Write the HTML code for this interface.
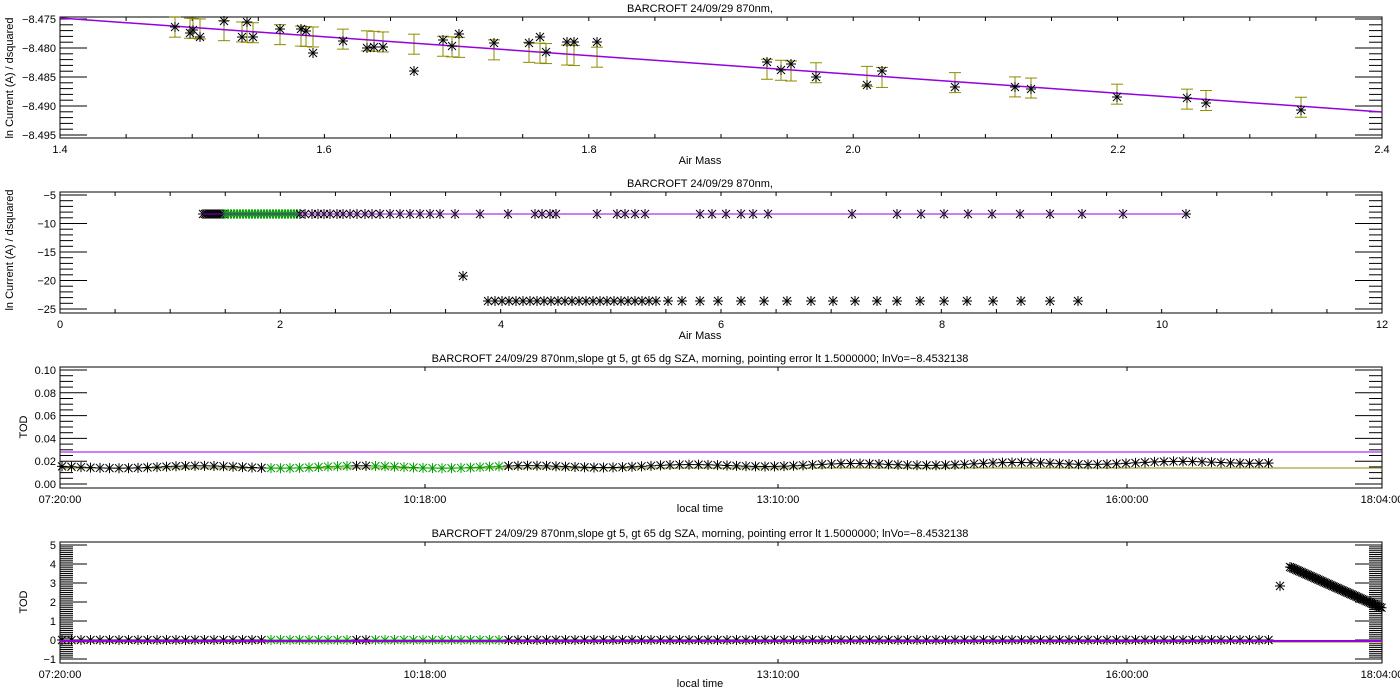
<!DOCTYPE html>
<html><head><meta charset="utf-8"><style>
html,body{margin:0;padding:0;background:#fff;width:1400px;height:700px;overflow:hidden}
svg{display:block;font-family:"Liberation Sans",sans-serif}
</style></head><body>
<svg id="s" width="1400" height="700" xmlns="http://www.w3.org/2000/svg"></svg>
<script>
const S=document.getElementById('s');let h='';
const L=60,R=1382;
function ln(x1,y1,x2,y2,c,w){h+=`<line x1="${x1}" y1="${y1}" x2="${x2}" y2="${y2}" stroke="${c||'#000'}" stroke-width="${w||1}"/>`;}
function tx(x,y,t,a,extra){h+=`<text x="${x}" y="${y}" font-size="11" text-anchor="${a||'middle'}" ${extra||''}>${t}</text>`;}
function star(x,y,c){c=c||'#000';const r=5;ln(x-r,y,x+r,y,c);ln(x,y-r,x,y+r,c);ln(x-r*.8,y-r*.8,x+r*.8,y+r*.8,c);ln(x-r*.8,y+r*.8,x+r*.8,y-r*.8,c);}
function box(T,B,title){h+=`<rect x="${L}" y="${T}" width="${R-L}" height="${B-T}" fill="none" stroke="#000"/>`;tx(700,T-5,title,'middle','font-size="12"');}
function xticks(T,B,n,labs,minor){
 if(minor>0){for(let i=0;i<=minor;i++){const x=L+i*(R-L)/minor;ln(x,B,x,B-4);ln(x,T,x,T+4);}}
 labs.forEach(([x,t])=>tx(x,B+15,t));
}
// Panel 1
let T=17,B=138;box(T,B,'BARCROFT 24/09/29 870nm,');
const f1=v=>19+(-8.475-v)/0.02*116;
for(let i=0;i<21;i++){const v=-8.495+i*0.001;const y=f1(v);const m=(i%5==0);ln(L,y,L+(m?27:13),y);ln(R,y,R-(m?27:13),y);if(m)tx(L-4,y+4,'\u2212'+(-v).toFixed(3),'end');}
xticks(T,B,0,[[60,'1.4'],[324,'1.6'],[589,'1.8'],[853,'2.0'],[1118,'2.2'],[1382,'2.4']],20);
tx(700,164,'Air Mass','middle','font-size="10"');
tx(13,78,'ln Current (A) / dsquared','middle','font-size="10" transform="rotate(-90 13 78)"');
tx(13,250,'ln Current (A) / dsquared','middle','font-size="10" transform="rotate(-90 13 250)"');
const lineY=x=>18+(x-60)/1322*94;
const P1=[[175,27],[190,33],[193,30],[200,37],[224,21],[242,37],[247,22],[253,37],[280,29],[301,29],[306,31],[313,53],[343,41],[367,48],[374,47],[383,47],[414,71],[443,40],[452,46],[459,34],[494,43],[529,43],[540,37],[546,52],[567,42],[574,42],[597,42],[767,62],[781,70],[791,64],[816,77],[867,85],[882,71],[955,87],[1015,87],[1031,89],[1117,97],[1187,98],[1206,103],[1301,110]];
P1.forEach(([x,y])=>{const c=lineY(x)+1;ln(x,c-10,x,c+10,'#8c8c00');ln(x-6,c-10,x+6,c-10,'#8c8c00');ln(x-6,c+10,x+6,c+10,'#8c8c00');});
ln(60,18,1382,112,'#9400e0',1.5);
P1.forEach(([x,y])=>star(x,y));
// Panel 2
T=192;B=313;box(T,B,'BARCROFT 24/09/29 870nm,');
const f2=v=>195+(-5-v)/20*114;
for(let v=-25;v<=-5;v++){const y=f2(v);const m=(v%5==0);ln(L,y,L+(m?27:13),y);ln(R,y,R-(m?27:13),y);if(m)tx(L-4,y+4,'\u2212'+(-v),'end');}
xticks(T,B,0,[[60,'0'],[280,'2'],[501,'4'],[721,'6'],[942,'8'],[1162,'10'],[1382,'12']],24);
tx(700,339,'Air Mass','middle','font-size="10"');
for(let x=203;x<225;x+=2)star(x,214);
for(let x=225;x<300;x+=3)star(x,214,'#00a000');
let xs=[300,305,312,318,324,330,337,343,350,357,365,372,380,390,400,410,420,430,440,455,480,508,535,542,550,556,597,617,625,635,645,700,712,726,741,753,768,852,897,921,944,968,992,1020,1050,1082,1123,1186];
xs.forEach(x=>star(x,214));
ln(203,214,1186,214,'#9400e0');
for(let x=488;x<660;x+=7)star(x,301);
[668,682,700,718,741,764,787,811,833,855,877,897,920,944,967,993,1021,1050,1078].forEach(x=>star(x,301));
star(463,276);
// Panel 3
const ttl='BARCROFT 24/09/29 870nm,slope gt 5, gt 65 dg SZA, morning, pointing error lt 1.5000000; lnVo=\u22128.4532138';
T=367;B=488;box(T,B,ttl);
const f3=v=>370+(0.10-v)/0.10*114;
for(let i=0;i<=20;i++){const v=i*0.005;const y=f3(v);const m=(i%4==0);ln(L,y,L+(m?27:13),y);ln(R,y,R-(m?27:13),y);if(m)tx(L-4,y+4,v.toFixed(2),'end');}
const tl=[[60,'07:20:00'],[425,'10:18:00'],[778,'13:10:00'],[1127,'16:00:00'],[1382,'18:04:00']];
xticks(T,B,0,tl,0);tl.forEach(([x])=>{ln(x,B,x,B-4);ln(x,T,x,T+4);});
tx(27,427,'TOD','middle','font-size="10" transform="rotate(-90 27 427)"');
ln(L,452,R,452,'#9400e0');ln(L,468,R,468,'#8c8c00');
for(let x=62;x<1275;x+=9.5){const g=(x>268&&x<352)||(x>370&&x<500);const y=467-Math.max(0,(x-500))/770*5+(Math.sin(x*0.7)*1.2);star(x,y,g?'#00a000':'#000');}
// Panel 4
T=542;B=663;box(T,B,ttl);
const f4=v=>640-v*19;
for(let i=0;i<=60;i++){const v=-1+i*0.1;const y=f4(v);const m=(i%10==0);ln(L,y,L+(m?27:13),y);ln(R,y,R-(m?27:13),y);if(m)tx(L-4,y+4,v<0?'\u22121':String(Math.round(v)),'end');}
xticks(T,B,0,tl,0);tl.forEach(([x])=>{ln(x,B,x,B-4);ln(x,T,x,T+4);});
tx(700,687,'local time','middle','font-size="10"');
tx(700,512,'local time','middle','font-size="10"');
tx(27,602,'TOD','middle','font-size="10" transform="rotate(-90 27 602)"');
ln(L,642,R,642,'#8c8c00');
for(let x=62;x<1275;x+=9.5){const g=(x>268&&x<352)||(x>370&&x<500);star(x,640,g?'#00a000':'#000');}
ln(L,641,R,641,'#9400e0',2);
for(let x=1290;x<=1382;x+=1.5)star(x,567+(x-1290)/92*41);
star(1280,586);
S.innerHTML=h;
</script>
</body></html>
